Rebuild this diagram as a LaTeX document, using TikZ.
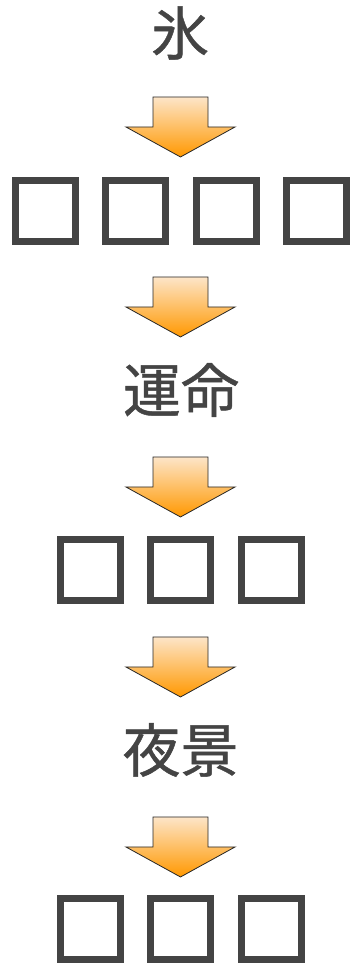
\documentclass[tikz,border=0pt]{standalone}
\usepackage{fontspec}
\newfontfamily\jpfont[FakeBold=0.8]{Noto Sans CJK JP}
\usepackage{tikz}
\usetikzlibrary{calc}
\definecolor{textgray}{RGB}{68,68,68}
\definecolor{arrowtop}{RGB}{253,229,200}
\definecolor{arrowbot}{RGB}{255,152,0}
\tikzset{
	tofu/.style={draw=textgray, line width=7pt, minimum width=60pt, minimum height=61pt, inner sep=0pt},
	word/.style={text=textgray, font=\jpfont\fontsize{58}{60}\selectfont, inner sep=0pt}
}
\def\blockarrow(#1){\draw[line width=0.8pt, color=black!85, top color=arrowtop, bottom color=arrowbot] ($(#1)+(-27.5,0)$) -- ($(#1)+(27.5,0)$) -- ($(#1)+(27.5,-30)$) -- ($(#1)+(54.5,-30)$) -- ($(#1)+(0,-60)$) -- ($(#1)+(-54.5,-30)$) -- ($(#1)+(-27.5,-30)$) -- cycle;}

\begin{document}
\begin{tikzpicture}[x=1pt, y=1pt]
			%%%%% START %%%%%
			\useasboundingbox (0, 0) rectangle (351, 966);
			
			\node[word] (ice) at (180, 933) {氷};
			\blockarrow(180.5, 869)
			
			\foreach \i/\x in {1/45.5, 2/135.5, 3/226, 4/316.5}
				\node[tofu] (rowa\i) at (\x, 754.5) {};
			\blockarrow(180.5, 689)
			
			\node[word] (fate) at (181, 576) {運命};
			\blockarrow(180.5, 509)
			
			\foreach \i/\x in {1/90.5, 2/180.5, 3/271.5}
				\node[tofu] (rowb\i) at (\x, 395.5) {};
			\blockarrow(180.5, 329)
			
			\node[word] (night) at (180.5, 216) {夜景};
			\blockarrow(180.5, 149)
			
			\foreach \i/\x in {1/90.5, 2/180.5, 3/271.5}
				\node[tofu] (rowc\i) at (\x, 36.5) {};
			
			%%%%% END %%%%%
\end{tikzpicture}
\end{document}
